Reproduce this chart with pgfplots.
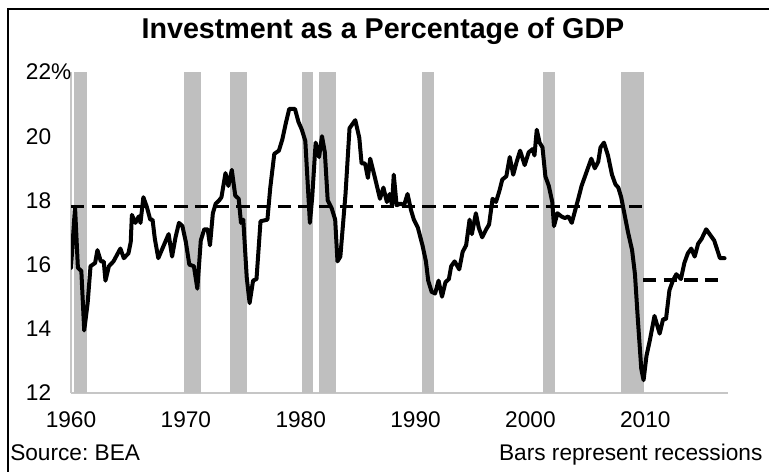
\documentclass[border=0pt]{standalone}
\usepackage{pgfplots}
\pgfplotsset{compat=1.18}
\usepackage{fontspec}
\setmainfont{Liberation Sans}
\definecolor{recg}{HTML}{BFBFBF}
\begin{document}
\frenchspacing
\begin{tikzpicture}
\useasboundingbox (0pt,0pt) rectangle (576.75pt,354pt);
\draw[line width=1.5pt] (6pt,-2pt) -- (6pt,347.5pt) -- (580pt,347.5pt);
\node[font=\fontsize{21.5pt}{24pt}\selectfont\bfseries] at (287.25pt,331pt) {Investment as a Percentage of GDP};
\node[anchor=base west, inner sep=0pt, font=\fontsize{17pt}{20pt}\selectfont] at (7.5pt,9pt) {Source:\ BEA};
\node[anchor=base east, inner sep=0pt, font=\fontsize{17pt}{20pt}\selectfont] at (572pt,9pt) {Bars represent recessions};
\begin{axis}[
  at={(53.25pt,59.25pt)}, anchor=south west,
  scale only axis, width=492.75pt, height=240.75pt,
  xmin=1960, xmax=2017.2, ymin=12, ymax=22,
  axis x line*=bottom, axis y line*=left,
  axis line style={draw=gray!45, line width=0.8pt, -},
  major tick length=0pt,
  xtick={1960,1970,1980,1990,2000,2010},
  xticklabels={1960,1970,1980,1990,2000,2010},
  ytick={12,14,16,18,20,22},
  yticklabels={12,14,16,18,20,22\%},
  xticklabel style={anchor=north, inner sep=0pt, yshift=-14pt, font=\fontsize{17pt}{20pt}\selectfont},
  yticklabel style={anchor=west, inner sep=0pt, xshift=-34pt, font=\fontsize{17pt}{20pt}\selectfont},
  clip=true,
]
\addplot[fill=recg, draw=none] coordinates {(1960.3,12) (1960.3,22) (1961.35,22) (1961.35,12)} -- cycle;
\addplot[fill=recg, draw=none] coordinates {(1969.87,12) (1969.87,22) (1971.3,22) (1971.3,12)} -- cycle;
\addplot[fill=recg, draw=none] coordinates {(1973.87,12) (1973.87,22) (1975.35,22) (1975.35,12)} -- cycle;
\addplot[fill=recg, draw=none] coordinates {(1980.13,12) (1980.13,22) (1981.1,22) (1981.1,12)} -- cycle;
\addplot[fill=recg, draw=none] coordinates {(1981.6,12) (1981.6,22) (1983.1,22) (1983.1,12)} -- cycle;
\addplot[fill=recg, draw=none] coordinates {(1990.56,12) (1990.56,22) (1991.6,22) (1991.6,12)} -- cycle;
\addplot[fill=recg, draw=none] coordinates {(2001.1,12) (2001.1,22) (2002.13,22) (2002.13,12)} -- cycle;
\addplot[fill=recg, draw=none] coordinates {(2007.87,12) (2007.87,22) (2009.87,22) (2009.87,12)} -- cycle;
\addplot[black, line width=2.4pt, dash pattern=on 10pt off 5.5pt] coordinates {(1960,17.8) (2009.8,17.8)};
\addplot[black, line width=2.4pt, dash pattern=on 10pt off 5.5pt] coordinates {(2009.8,15.52) (2016.4,15.52)};
\addplot[black, line width=3pt, line join=round, line cap=round] coordinates {
(1960.0,15.9) (1960.35,17.8) (1960.6,15.9) (1960.9,15.8) (1961.15,13.95) (1961.45,14.8)
(1961.7,15.95) (1962.1,16.05) (1962.3,16.45) (1962.6,16.1) (1962.85,16.1) (1963.0,15.5)
(1963.3,15.95) (1963.7,16.1) (1964.0,16.3) (1964.3,16.5) (1964.6,16.2) (1965.0,16.35)
(1965.2,16.7) (1965.3,17.55) (1965.6,17.3) (1965.9,17.5) (1966.05,17.3) (1966.3,18.1)
(1966.6,17.8) (1966.9,17.4) (1967.1,17.4) (1967.3,16.8) (1967.6,16.2) (1967.9,16.45)
(1968.2,16.7) (1968.5,16.95) (1968.8,16.25) (1969.1,16.85) (1969.4,17.3) (1969.7,17.2)
(1970.0,16.7) (1970.3,16.0) (1970.7,15.95) (1971.0,15.25) (1971.3,16.75) (1971.6,17.1)
(1971.9,17.1) (1972.1,16.6) (1972.35,17.6) (1972.6,17.9) (1972.9,18.0) (1973.1,18.1)
(1973.45,18.85) (1973.7,18.45) (1974.0,18.95) (1974.3,18.15) (1974.6,18.05) (1974.8,17.3)
(1975.0,17.4) (1975.3,15.6) (1975.55,14.8) (1975.85,15.5) (1976.15,15.55) (1976.5,17.35)
(1977.1,17.4) (1977.35,18.4) (1977.7,19.45) (1978.1,19.55) (1978.4,19.9) (1978.7,20.4)
(1979.0,20.85) (1979.5,20.85) (1979.8,20.45) (1980.1,20.2) (1980.4,19.85) (1980.8,17.3)
(1981.0,18.1) (1981.3,19.8) (1981.6,19.35) (1981.85,20.0) (1982.1,19.5) (1982.35,18.0)
(1982.7,17.75) (1983.0,17.4) (1983.2,16.1) (1983.45,16.25) (1983.9,18.2) (1984.25,20.25)
(1984.75,20.5) (1985.1,19.95) (1985.3,19.15) (1985.6,19.15) (1985.85,18.7) (1986.05,19.3)
(1986.4,18.8) (1986.6,18.5) (1986.9,18.05) (1987.2,18.4) (1987.5,17.95) (1987.75,18.2)
(1987.95,17.85) (1988.1,18.8) (1988.35,17.85) (1988.7,17.9) (1989.0,17.85) (1989.3,18.2)
(1989.6,17.7) (1989.85,17.4) (1990.2,17.15) (1990.6,16.6) (1990.9,16.1) (1991.1,15.5)
(1991.4,15.15) (1991.7,15.1) (1992.0,15.5) (1992.3,15.0) (1992.6,15.45) (1992.9,15.55)
(1993.1,15.95) (1993.4,16.1) (1993.8,15.85) (1994.1,16.4) (1994.4,16.6) (1994.7,17.4)
(1994.9,16.95) (1995.25,17.6) (1995.5,17.15) (1995.8,16.85) (1996.15,17.1) (1996.4,17.25)
(1996.7,18.05) (1997.0,17.95) (1997.3,18.3) (1997.55,18.65) (1997.9,18.75) (1998.2,19.35)
(1998.5,18.8) (1998.8,19.2) (1999.1,19.55) (1999.5,19.1) (1999.85,19.5) (2000.2,19.6)
(2000.35,19.4) (2000.55,20.2) (2000.8,19.8) (2001.05,19.65) (2001.3,18.75) (2001.6,18.45)
(2001.9,17.95) (2002.05,17.2) (2002.35,17.6) (2002.7,17.5) (2003.0,17.45) (2003.3,17.5)
(2003.6,17.3) (2003.9,17.7) (2004.2,18.1) (2004.45,18.45) (2004.7,18.7) (2005.05,19.05)
(2005.3,19.3) (2005.6,19.0) (2005.9,19.2) (2006.1,19.65) (2006.4,19.8) (2006.75,19.4)
(2007.1,18.8) (2007.4,18.5) (2007.65,18.4) (2007.9,18.1) (2008.2,17.55) (2008.5,17.0)
(2008.85,16.45) (2009.1,15.7) (2009.35,14.3) (2009.65,12.75) (2009.85,12.4) (2010.1,13.15)
(2010.4,13.65) (2010.8,14.4) (2011.25,13.85) (2011.55,14.3) (2011.8,14.3) (2012.1,15.2)
(2012.4,15.5) (2012.7,15.7) (2013.1,15.55) (2013.4,16.05) (2013.7,16.35) (2014.0,16.5)
(2014.3,16.25) (2014.6,16.65) (2014.9,16.8) (2015.3,17.1) (2015.6,16.95) (2016.0,16.75)
(2016.5,16.2) (2016.9,16.2)
};
\end{axis}
\end{tikzpicture}
\end{document}
